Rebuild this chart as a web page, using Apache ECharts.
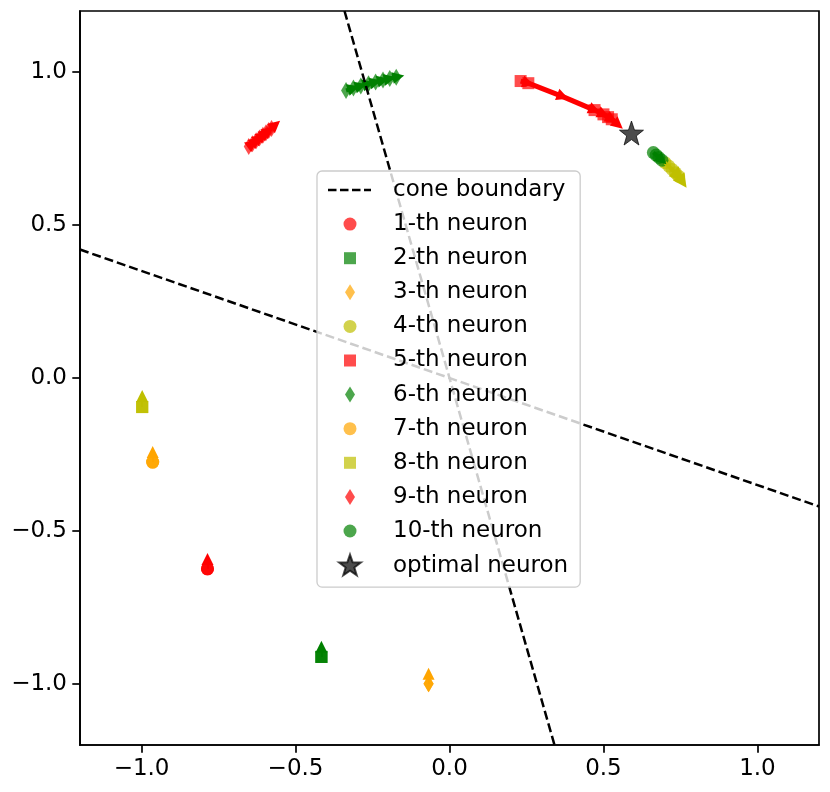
<!DOCTYPE html>
<html><head><meta charset="utf-8">
<script src="https://cdn.jsdelivr.net/npm/echarts@6/dist/echarts.min.js"></script>
<style>html,body{margin:0;padding:0;background:#fff}#c{width:830px;height:792px}</style>
</head><body><div id="c"></div>
<script>
// ---------- data ----------
const axisRange = [-1.2, 1.2];
const xTicks = [-1.0, -0.5, 0.0, 0.5, 1.0];
const xTickLabels = ['\u22121.0', '\u22120.5', '0.0', '0.5', '1.0'];
const yTicks = [-1.0, -0.5, 0.0, 0.5, 1.0];
const yTickLabels = ['\u22121.0', '\u22120.5', '0.0', '0.5', '1.0'];

const coneLine1 = [[-0.341, 1.2], [0.341, -1.2]];
const coneLine2 = [[-1.2, 0.42], [1.2, -0.42]];

const neuronNames = ['1-th neuron', '2-th neuron', '3-th neuron', '4-th neuron', '5-th neuron',
  '6-th neuron', '7-th neuron', '8-th neuron', '9-th neuron', '10-th neuron'];
const neuronColors = ['#ff0000', '#008000', '#ffa500', '#bfbf00', '#ff0000',
  '#008000', '#ffa500', '#bfbf00', '#ff0000', '#008000'];
const neuronShapes = ['circle', 'square', 'thin_diamond', 'circle', 'square',
  'thin_diamond', 'circle', 'square', 'thin_diamond', 'circle'];

// trajectories (positions over training)
const traj1 = [[-0.786, -0.624], [-0.786, -0.624], [-0.786, -0.624]];
const traj2 = [[-0.416, -0.912], [-0.416, -0.912], [-0.416, -0.912]];
const traj3 = [[-0.068, -1.000], [-0.068, -1.000], [-0.068, -1.000]];
const traj4 = [[0.700, 0.704], [0.712, 0.693], [0.723, 0.682], [0.734, 0.671], [0.744, 0.660]];
const traj5 = [[0.231, 0.971], [0.256, 0.964], [0.471, 0.876], [0.500, 0.862], [0.515, 0.853], [0.527, 0.846]];
const traj6 = [[-0.336, 0.940], [-0.312, 0.948], [-0.288, 0.955], [-0.263, 0.962], [-0.240, 0.968],
  [-0.216, 0.974], [-0.194, 0.979], [-0.173, 0.983]];
const traj7 = [[-0.964, -0.275], [-0.964, -0.275], [-0.964, -0.275]];
const traj8 = [[-0.998, -0.095], [-0.998, -0.095], [-0.998, -0.095]];
const traj9 = [[-0.652, 0.757], [-0.640, 0.766], [-0.628, 0.776], [-0.617, 0.785], [-0.606, 0.794],
  [-0.596, 0.802], [-0.587, 0.809], [-0.578, 0.816]];
const traj10 = [[0.662, 0.737], [0.671, 0.729], [0.680, 0.721], [0.690, 0.712]];

// update arrows [x0, y0, x1, y1] (x1, y1 = arrow head centre)
const arrows1 = [[-0.786, -0.624, -0.786, -0.592]];
const arrows2 = [[-0.416, -0.912, -0.416, -0.879]];
const arrows3 = [[-0.068, -1.000, -0.068, -0.967]];
const arrows4 = [[0.700, 0.704, 0.744, 0.660], [0.744, 0.660, 0.757, 0.641]];
const arrows5 = [[0.231, 0.971, 0.256, 0.964], [0.256, 0.964, 0.368, 0.920], [0.368, 0.920, 0.471, 0.876],
  [0.471, 0.876, 0.500, 0.862], [0.500, 0.862, 0.527, 0.846], [0.527, 0.846, 0.548, 0.828]];
const arrows6 = [[-0.336, 0.940, -0.312, 0.948], [-0.312, 0.948, -0.288, 0.955], [-0.288, 0.955, -0.263, 0.962],
  [-0.263, 0.962, -0.240, 0.968], [-0.240, 0.968, -0.216, 0.974], [-0.216, 0.974, -0.194, 0.979],
  [-0.194, 0.979, -0.166, 0.985]];
const arrows7 = [[-0.964, -0.275, -0.964, -0.242]];
const arrows8 = [[-0.998, -0.095, -0.998, -0.059]];
const arrows9 = [[-0.652, 0.757, -0.640, 0.766], [-0.640, 0.766, -0.628, 0.776], [-0.628, 0.776, -0.617, 0.785],
  [-0.617, 0.785, -0.606, 0.794], [-0.606, 0.794, -0.596, 0.802], [-0.596, 0.802, -0.587, 0.809],
  [-0.587, 0.809, -0.565, 0.828]];
const arrows10 = [[0.662, 0.737, 0.690, 0.712]];

const optimalNeuron = [[0.591, 0.801]];

// ---------- build ----------
const trajs = [traj1, traj2, traj3, traj4, traj5, traj6, traj7, traj8, traj9, traj10];
const arrowSets = [arrows1, arrows2, arrows3, arrows4, arrows5, arrows6, arrows7, arrows8, arrows9, arrows10];

const FONT = 'DejaVu Sans';
const FS = 23;
const plotSymbol = {
  circle: { symbol: 'circle', size: 13 },
  square: { symbol: 'rect', size: 12 },
  thin_diamond: { symbol: 'path://M0,-8L5,0L0,8L-5,0Z', size: [10, 17] }
};
const legendIcon = {
  circle: 'path://M-12,-12M12,12M6.5,0A6.5,6.5,0,1,1,-6.5,0A6.5,6.5,0,1,1,6.5,0Z',
  square: 'path://M-12,-12M12,12M-6,-6L6,-6L6,6L-6,6Z',
  thin_diamond: 'path://M-12,-12M12,12M0,-8L5,0L0,8L-5,0Z'
};
const dashLegend = 'path://M-22,-12M22,12M-22,-1.25h8.5v2.5h-8.5zM-10,-1.25h8.5v2.5h-8.5zM2,-1.25h8.5v2.5h-8.5zM14,-1.25h7v2.5h-7z';
const starPath = 'path://M0,-12L2.82,-3.88L11.41,-3.71L4.57,1.49L7.05,9.71L0,4.8L-7.05,9.71L-4.57,1.49L-11.41,-3.71L-2.82,-3.88Z';
const starLegend = 'path://M-12,-12M12,12M0,-11.5L2.7,-3.72L10.94,-3.55L4.38,1.43L6.76,9.3L0,4.6L-6.76,9.3L-4.38,1.43L-10.94,-3.55L-2.7,-3.72Z';

const series = [];
trajs.forEach((t, i) => {
  const ps = plotSymbol[neuronShapes[i]];
  series.push({
    name: neuronNames[i], type: 'scatter', data: t,
    symbol: ps.symbol, symbolSize: ps.size, z: 3,
    itemStyle: { color: neuronColors[i], opacity: 0.7 }
  });
});
arrowSets.forEach((a, i) => {
  const moving = trajs[i].length > 3;
  series.push({
    type: 'lines', coordinateSystem: 'cartesian2d', silent: true, z: 4,
    data: a.map(s => ({ coords: [[s[0], s[1]], [s[2], s[3]]] })),
    symbol: ['none', 'triangle'],
    symbolSize: i === 3 ? 14 : 12,
    lineStyle: { color: neuronColors[i], width: i === 4 ? 5 : (moving ? 4 : 2), opacity: 1, curveness: 0 }
  });
});
series.push({
  name: 'optimal neuron', type: 'scatter', data: optimalNeuron,
  symbol: starPath, symbolSize: 24, z: 5,
  itemStyle: { color: '#000', opacity: 0.7, borderColor: '#000', borderWidth: 1 }
});
[coneLine1, coneLine2].forEach(l => {
  series.push({
    name: 'cone boundary', type: 'line', data: l, symbol: 'none', showSymbol: false, z: 6,
    silent: true,
    itemStyle: { color: '#000' },
    lineStyle: { color: '#000', width: 2.5, type: [9, 4] }
  });
});

const legendData = [{ name: 'cone boundary', icon: dashLegend, itemStyle: { color: '#000', opacity: 1 } }];
neuronNames.forEach((n, i) => legendData.push({ name: n, icon: legendIcon[neuronShapes[i]] }));
legendData.push({ name: 'optimal neuron', icon: starLegend });

function fmt(ticks, labels) {
  return v => {
    for (let k = 0; k < ticks.length; k++) if (Math.abs(ticks[k] - v) < 1e-6) return labels[k];
    return '';
  };
}

const axisCommon = {
  type: 'value', min: axisRange[0], max: axisRange[1],
  axisLine: { show: true, onZero: false, lineStyle: { color: '#000', width: 1.7 } },
  splitLine: { show: false },
};

const chart = echarts.init(document.getElementById('c'), null, { renderer: 'canvas' });
chart.setOption({
  animation: false,
  backgroundColor: '#fff',
  grid: { left: 80, right: 11, top: 11, bottom: 47, show: true, borderColor: '#000', borderWidth: 1.7, backgroundColor: 'transparent' },
  xAxis: Object.assign({}, axisCommon, {
    axisTick: { show: true, customValues: xTicks, length: 7.7, inside: false, lineStyle: { color: '#000', width: 1.7 } },
    axisLabel: { customValues: xTicks, formatter: fmt(xTicks, xTickLabels), margin: 13, color: '#000', fontSize: FS, fontFamily: FONT }
  }),
  yAxis: Object.assign({}, axisCommon, {
    axisTick: { show: true, customValues: yTicks, length: 7.7, inside: false, lineStyle: { color: '#000', width: 1.7 } },
    axisLabel: { customValues: yTicks, formatter: fmt(yTicks, yTickLabels), margin: 13, color: '#000', fontSize: FS, fontFamily: FONT }
  }),
  legend: {
    orient: 'vertical', left: 317, top: 171, z: 10,
    padding: [7, 12, 8, 11],
    itemWidth: 44, itemHeight: 24, itemGap: 10.1,
    symbolKeepAspect: true,
    backgroundColor: 'rgba(255,255,255,0.8)',
    borderColor: '#cccccc', borderWidth: 1.3, borderRadius: 5,
    textStyle: { fontFamily: FONT, fontSize: FS, color: '#000', lineHeight: 24, padding: [0, 0, 0, 16] },
    selectedMode: false,
    data: legendData
  },
  series: series
});
</script></body></html>
